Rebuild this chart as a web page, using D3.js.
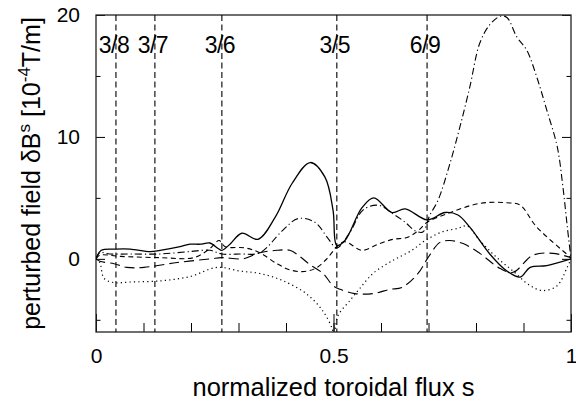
<!DOCTYPE html>
<html>
<head>
<meta charset="utf-8">
<script src="https://cdn.jsdelivr.net/npm/d3@7"></script>
<style>
body { margin: 0; background: #fff; }
svg { display: block; font-family: "Liberation Sans", Arial, Helvetica, sans-serif; }
</style>
</head>
<body>
<div id="chart"></div>
<script>
// values: [s, dB^s in 1e-4 T/m]
const xTicks = [0, 0.5, 1]
const yTicks = [0, 10, 20]
const surfaceS = [0.042, 0.124, 0.265, 0.507, 0.697]
const surfaceLabels = ["3/8", "3/7", "3/6", "3/5", "6/9"]

const solid = [[0,0],[0.011,0.7],[0.042,0.8],[0.072,0.8],[0.114,0.6],[0.135,0.7],[0.177,1.0],
  [0.198,1.2],[0.219,1.2],[0.240,1.3],[0.257,0.85],[0.265,0.7],[0.282,1.2],[0.307,2.1],[0.341,1.6],
  [0.377,3.4],[0.413,6.2],[0.451,7.9],[0.482,6.7],[0.499,4.0],[0.507,1.1],[0.524,1.5],[0.560,4.2],
  [0.585,5.0],[0.623,3.8],[0.651,4.1],[0.697,3.2],[0.735,3.8],[0.762,3.6],[0.787,2.6],[0.829,0.4],
  [0.865,-1.0],[0.893,-1.5],[0.914,-0.7],[0.949,-0.55],[1,0]]

const dashDot = [[0,0],[0.008,0.5],[0.029,0.4],[0.072,0.4],[0.135,0.4],[0.198,0.6],[0.240,0.7],
  [0.265,0.4],[0.303,0.4],[0.345,0.5],[0.392,2.3],[0.425,3.3],[0.461,3.0],[0.488,1.7],[0.507,0.9],
  [0.535,2.2],[0.562,4.0],[0.594,4.4],[0.625,3.7],[0.651,3.0],[0.672,2.3],[0.688,2.2],[0.703,3.6],
  [0.720,4.8],[0.745,7.8],[0.766,10.8],[0.787,14.1],[0.808,17.7],[0.829,19.2],[0.851,19.9],
  [0.865,19.8],[0.886,18.2],[0.907,17.1],[0.928,14.9],[0.949,12.2],[0.971,9.2],[0.983,5.9],
  [0.992,2.7],[1,0]]

const shortDash = [[0,0],[0.008,0.3],[0.051,0.2],[0.135,0.1],[0.206,0.1],[0.240,0.85],[0.259,1.5],
  [0.272,1.0],[0.314,0.9],[0.345,0.5],[0.381,-0.4],[0.408,-0.9],[0.434,-1.05],[0.461,-0.8],
  [0.486,0.0],[0.507,1.0],[0.524,1.4],[0.560,0.7],[0.594,1.2],[0.625,1.6],[0.655,1.75],[0.678,2.3],
  [0.697,3.0],[0.739,3.7],[0.808,4.55],[0.865,4.6],[0.893,4.4],[0.928,2.6],[1,0.1]]

const longDash = [[0,0],[0.008,-0.2],[0.038,-0.4],[0.065,-0.7],[0.101,-0.7],[0.171,-0.3],[0.242,0.0],
  [0.265,0.1],[0.309,0.0],[0.345,0.5],[0.381,0.7],[0.408,0.7],[0.429,0.2],[0.451,-0.5],[0.478,-1.2],
  [0.499,-2.2],[0.514,-2.5],[0.545,-2.85],[0.583,-2.85],[0.619,-2.5],[0.644,-2.35],[0.678,-1.2],
  [0.699,0.1],[0.724,1.35],[0.745,1.5],[0.773,1.25],[0.808,0.45],[0.851,-0.8],[0.878,-1.1],
  [0.920,0.3],[0.962,0.45],[1,0.1]]

const dotted = [[0,0],[0.008,-0.3],[0.017,-1.6],[0.038,-1.95],[0.072,-1.9],[0.137,-1.8],[0.198,-1.45],
  [0.255,-0.7],[0.303,-1.0],[0.345,-1.2],[0.394,-1.8],[0.444,-2.9],[0.478,-4.3],[0.497,-5.7],
  [0.501,-6.3],[0.509,-4.7],[0.535,-3.4],[0.556,-2.4],[0.583,-1.2],[0.613,-0.4],[0.636,0.1],
  [0.665,0.7],[0.693,1.5],[0.728,2.2],[0.762,2.5],[0.781,2.7],[0.808,1.5],[0.844,0.1],[0.878,-1.0],
  [0.914,-2.2],[0.941,-2.6],[0.971,-2.2],[0.992,-0.7],[1,0]]

const width = 576, height = 401
const margin = {top: 15, right: 5, bottom: 69, left: 96}

let svg = d3.select("#chart").append("svg")
  .attr("width", width)
  .attr("height", height)

let x = d3.scaleLinear().domain([0, 1]).range([margin.left, width - margin.right])
let y = d3.scaleLinear().domain([-6, 20]).range([height - margin.bottom, margin.top])

svg.append("clipPath").attr("id", "plot")
  .append("rect")
  .attr("x", x(0)).attr("y", y(20))
  .attr("width", x(1) - x(0)).attr("height", y(-6) - y(20))

//axes: ticks point inwards
function tidy(g) {
  g.select(".domain").remove()
  g.attr("font-family", null).attr("font-size", 21)
  g.selectAll("text").attr("fill", "#000")
}

svg.append("g")
  .attr("transform", `translate(0,${y(-6)})`)
  .call(d3.axisBottom(x).tickValues(d3.range(1, 10).map(d => d / 10)).tickSize(-9).tickSizeOuter(0).tickFormat(""))
  .call(tidy)

svg.append("g")
  .attr("transform", `translate(0,${y(-6)})`)
  .call(d3.axisBottom(x).tickValues(xTicks).tickSize(-18).tickSizeOuter(0).tickPadding(16).tickFormat(d => String(d)))
  .call(tidy)

svg.append("g")
  .attr("transform", `translate(${x(0)},0)`)
  .call(d3.axisLeft(y).tickValues([-5, 5, 15]).tickSize(-4.5).tickSizeOuter(0).tickFormat(""))
  .call(tidy)

svg.append("g")
  .attr("transform", `translate(${x(0)},0)`)
  .call(d3.axisLeft(y).tickValues(yTicks).tickSize(-9).tickSizeOuter(0).tickPadding(16).tickFormat(d => String(d)))
  .call(tidy)

svg.append("g")
  .attr("transform", `translate(${x(1)},0)`)
  .call(d3.axisRight(y).tickValues([-5, 5, 15]).tickSize(-4.5).tickSizeOuter(0).tickFormat(""))
  .call(tidy)

svg.append("g")
  .attr("transform", `translate(${x(1)},0)`)
  .call(d3.axisRight(y).tickValues(yTicks).tickSize(-9).tickSizeOuter(0).tickFormat(""))
  .call(tidy)

svg.append("rect")
  .attr("x", x(0)).attr("y", y(20))
  .attr("width", x(1) - x(0)).attr("height", y(-6) - y(20))
  .attr("fill", "none")
  .attr("stroke", "#222")
  .attr("stroke-width", 1.3)

//rational surfaces
svg.selectAll(".surface")
  .data(surfaceS)
  .enter()
  .append("line")
  .attr("class", "surface")
  .attr("x1", d => x(d)).attr("x2", d => x(d))
  .attr("y1", y(20)).attr("y2", y(-6))
  .attr("stroke", "#000")
  .attr("stroke-width", 1.1)
  .attr("stroke-dasharray", "6,3.5")

svg.selectAll(".surfaceLabel")
  .data(surfaceS)
  .enter()
  .append("text")
  .attr("class", "surfaceLabel")
  .attr("x", d => x(d) - 2)
  .attr("y", 53)
  .attr("text-anchor", "middle")
  .attr("font-size", 23)
  .attr("letter-spacing", -0.5)
  .text((d, i) => surfaceLabels[i])

//curves
let line = d3.line()
  .x(d => x(d[0]))
  .y(d => y(d[1]))
  .curve(d3.curveCatmullRom.alpha(0.5))

let series = [
  {data: solid, dash: null, w: 1.3},
  {data: dashDot, dash: "7,3,1.2,3", w: 1.1},
  {data: shortDash, dash: "5,3.5", w: 1.1},
  {data: longDash, dash: "10,5", w: 1.1},
  {data: dotted, dash: "1.2,3.2", w: 1.2}
]

svg.append("g")
  .attr("clip-path", "url(#plot)")
  .selectAll("path")
  .data(series)
  .enter()
  .append("path")
  .attr("d", d => line(d.data))
  .attr("fill", "none")
  .attr("stroke", "#000")
  .attr("stroke-width", d => d.w)
  .attr("stroke-dasharray", d => d.dash)

//axis titles
svg.append("text")
  .attr("x", (x(0) + x(1)) / 2)
  .attr("y", 396)
  .attr("text-anchor", "middle")
  .attr("font-size", 25.5)
  .text("normalized toroidal flux s")

let ylab = svg.append("text")
  .attr("transform", `translate(40,${(y(-6) + y(20)) / 2}) rotate(-90)`)
  .attr("text-anchor", "middle")
  .attr("font-size", 25)
ylab.append("tspan").text("perturbed field δB")
ylab.append("tspan").attr("dy", -10).attr("font-size", 17).text("s")
ylab.append("tspan").attr("dy", 10).text(" [10")
ylab.append("tspan").attr("dy", -10).attr("font-size", 17).text("-4")
ylab.append("tspan").attr("dy", 10).text("T/m]")
</script>
</body>
</html>
